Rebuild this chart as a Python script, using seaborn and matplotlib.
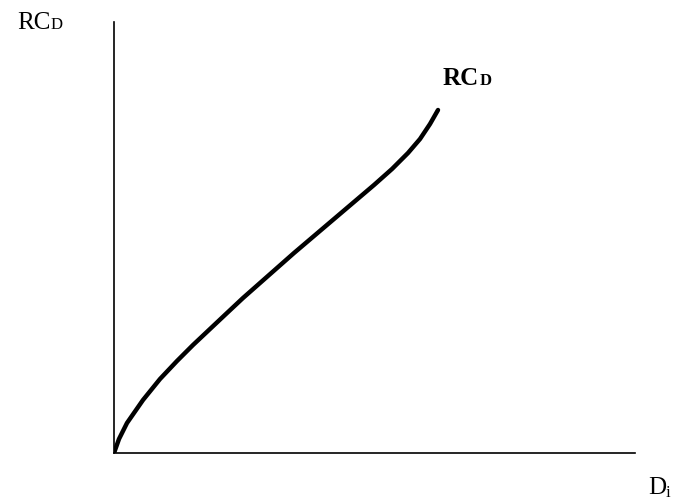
import matplotlib
matplotlib.use("Agg")
import matplotlib.pyplot as plt
import seaborn as sns
import pandas as pd

# curve (arbitrary units, origin at the axes corner)
demand = [0, 5, 13, 29, 46, 63, 79, 96, 113, 129, 146, 163, 180, 200, 220,
          240, 260, 278, 294, 306, 316, 324]
rc_d = [0, 14, 30, 53, 74, 92, 108, 124, 140, 155, 170, 185, 200, 217, 234,
        251, 268, 284, 300, 314, 329, 343]

sns.set_style("white")
plt.rcParams["font.family"] = ["Liberation Serif", "DejaVu Serif"]
plt.rcParams["text.color"] = "black"

fig = plt.figure(figsize=(6.77, 5.0), dpi=100)
ax = fig.add_axes([114 / 677, 47 / 500, 521 / 677, 431 / 500])

df = pd.DataFrame({"D": demand, "RC": rc_d})
sns.lineplot(data=df, x="D", y="RC", ax=ax, color="black", linewidth=3.2,
             sort=False, estimator=None, solid_capstyle="round",
             solid_joinstyle="round")

ax.set_xlim(0, 521)
ax.set_ylim(0, 431)
ax.set_xticks([])
ax.set_yticks([])
ax.set_xlabel("")
ax.set_ylabel("")
sns.despine(ax=ax)
for s in ("left", "bottom"):
    ax.spines[s].set_color("black")
    ax.spines[s].set_linewidth(1.2)

# axis labels, main letters plus small subscript on the same baseline
fig.text(17 / 677, 1 - 29 / 500, "RC", fontsize=18, va="baseline", ha="left")
fig.text(51 / 677, 1 - 29 / 500, "D", fontsize=12, va="baseline", ha="left")

fig.text(443 / 677, 1 - 85 / 500, "RC", fontsize=18, fontweight="bold",
         va="baseline", ha="left")
fig.text(480 / 677, 1 - 85 / 500, "D", fontsize=12, fontweight="bold",
         va="baseline", ha="left")

fig.text(648 / 677, 1 - 494 / 500, "D", fontsize=18, va="baseline", ha="left")
fig.text(666 / 677, 1 - 497 / 500, "i", fontsize=12, va="baseline", ha="left")

fig.savefig("out.png", dpi=100, facecolor="white")
